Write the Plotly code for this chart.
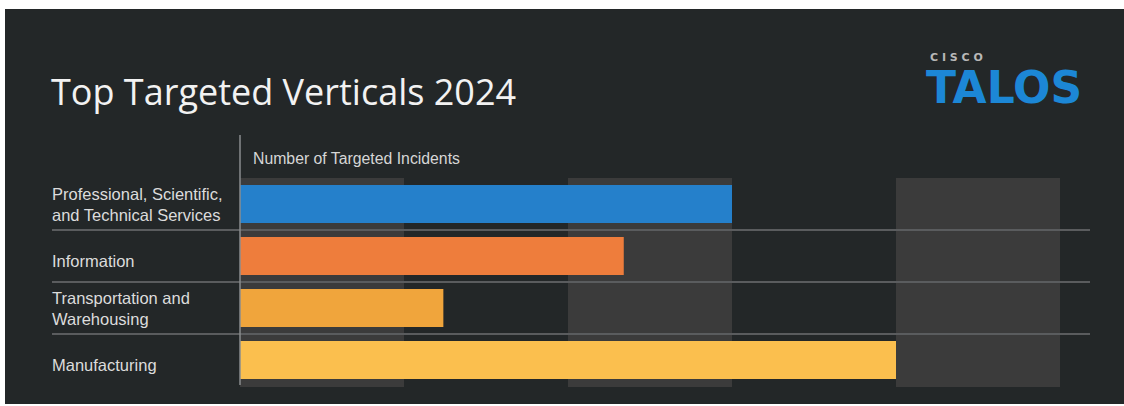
import plotly.graph_objects as go

W, H = 1124, 406

categories = ["Professional, Scientific,<br>and Technical Services", "Information",
              "Transportation and<br>Warehousing", "Manufacturing"]
values = [30.0, 23.4, 12.4, 40.0]
bar_colors = ["#2580cb", "#ee7d3c", "#f0a53c", "#fbbf4e"]
band_starts = [0, 20, 40]
band_width = 10
x_max = 50

def px_x(p):
    return p / W

def px_y(p):
    return 1 - p / H

fig = go.Figure()
fig.add_trace(go.Bar(
    x=values, y=list(range(len(categories))), orientation="h",
    marker=dict(color=bar_colors, line=dict(width=0)),
    width=0.73, hoverinfo="skip",
))

shapes = []
# dark panel
shapes.append(dict(type="rect", xref="paper", yref="paper", x0=px_x(5), x1=1.0,
                   y0=px_y(404), y1=px_y(9), fillcolor="#232728", line=dict(width=0), layer="below"))
# column bands
for b in band_starts:
    shapes.append(dict(type="rect", xref="x", yref="y domain", x0=b, x1=b + band_width,
                       y0=-0.005, y1=1.0, fillcolor="#3b3b3b", line=dict(width=0), layer="below"))
# separators
for i in range(len(categories) - 1):
    shapes.append(dict(type="line", xref="paper", yref="y", x0=px_x(52), x1=px_x(1090),
                       y0=i + 0.5, y1=i + 0.5, line=dict(color="#5a5c5e", width=2), layer="below"))
# vertical axis line
shapes.append(dict(type="line", xref="paper", yref="paper", x0=px_x(240), x1=px_x(240),
                   y0=px_y(385), y1=px_y(135), line=dict(color="#8a8c8e", width=1.5)))

annotations = []
for i, c in enumerate(categories):
    shift = 0 if "<br>" in c else -5
    annotations.append(dict(text=c, xref="paper", yref="y", x=px_x(50), y=i, yshift=shift,
                            xanchor="left", yanchor="middle", align="left", showarrow=False,
                            font=dict(family="Liberation Sans, Arial", size=16.5, color="#dcdcdc")))
annotations.append(dict(text="Number of Targeted Incidents", xref="paper", yref="paper",
                        x=px_x(251), y=px_y(158), xanchor="left", yanchor="middle", showarrow=False,
                        font=dict(family="Liberation Sans, Arial", size=15.8, color="#d6d6d6")))
annotations.append(dict(text="Top Targeted Verticals 2024", xref="paper", yref="paper",
                        x=px_x(49), y=px_y(92), xanchor="left", yanchor="middle", showarrow=False,
                        font=dict(family="Open Sans", size=36, color="#f2f2f2")))
annotations.append(dict(text="<b>C I S C O</b>", xref="paper", yref="paper",
                        x=px_x(928), y=px_y(57), xanchor="left", yanchor="middle", showarrow=False,
                        font=dict(family="DejaVu Sans", size=11, color="#b8b8b8")))
annotations.append(dict(text="<b>TALOS</b>", xref="paper", yref="paper",
                        x=px_x(924), y=px_y(88), xanchor="left", yanchor="middle", showarrow=False,
                        font=dict(family="DejaVu Sans", size=44, color="#1c87d6")))

fig.update_layout(
    width=W, height=H, margin=dict(l=0, r=0, t=0, b=0),
    paper_bgcolor="white", plot_bgcolor="rgba(0,0,0,0)",
    showlegend=False, shapes=shapes, annotations=annotations, bargap=0.27,
    xaxis=dict(domain=[px_x(240), px_x(1060)], range=[0, x_max], showgrid=False,
               zeroline=False, showticklabels=False, ticks="", fixedrange=True),
    yaxis=dict(domain=[px_y(386), px_y(178)], range=[len(categories) - 0.5, -0.5],
               showgrid=False, zeroline=False, showticklabels=False, ticks="", fixedrange=True),
)
fig.write_html("out.html", config={"displayModeBar": False})
